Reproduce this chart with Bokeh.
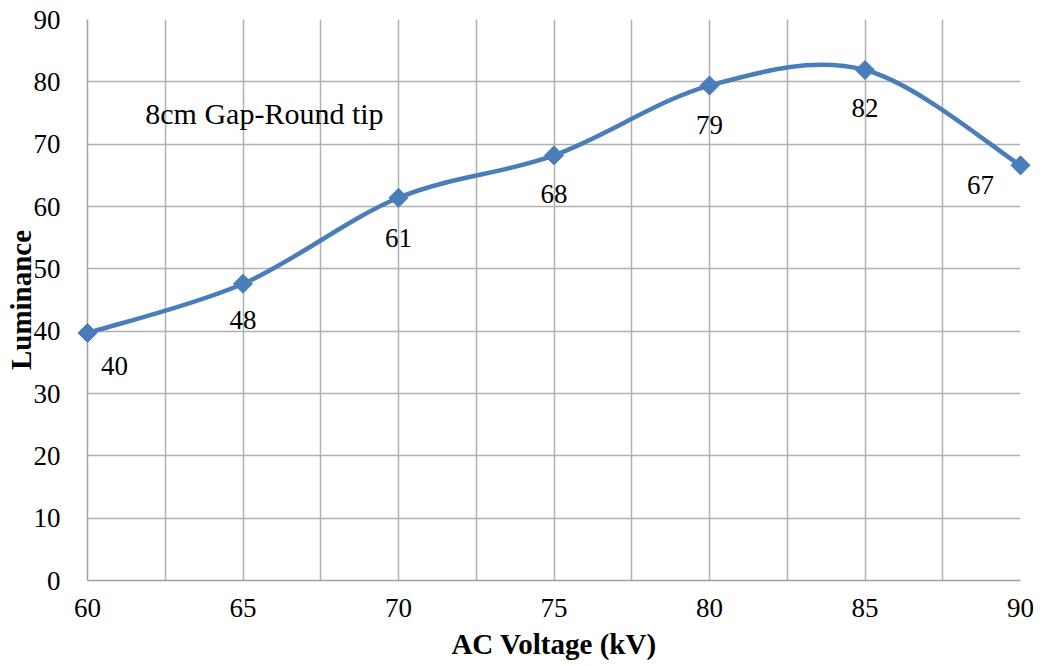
import numpy as np
from bokeh.plotting import figure
from bokeh.models import Range1d, FixedTicker, ColumnDataSource
from bokeh.core.properties import value
from bokeh.embed import file_html
from bokeh.resources import INLINE

# ---- data ----
voltage = [60, 65, 70, 75, 80, 85, 90]
luminance = [39.7, 47.6, 61.4, 68.2, 79.4, 81.9, 66.6]
point_labels = ["40", "48", "61", "68", "79", "82", "67"]
x_ticks = [60, 65, 70, 75, 80, 85, 90]
x_grid_ticks = [60, 62.5, 65, 67.5, 70, 72.5, 75, 77.5, 80, 82.5, 85, 87.5, 90]
y_ticks = [0, 10, 20, 30, 40, 50, 60, 70, 80, 90]
annotation = "8cm Gap-Round tip"

# label pixel offsets (style)
lab_dx = [27, 0, 0, 0, 0, 0, -40]
lab_dy = [33, 36, 40, 39, 39, 38, 20]

FONT = "Liberation Serif"
BLUE = "#4A7EBB"
GRID = "#B0B0B0"

p = figure(width=1043, height=666, output_backend="svg", toolbar_location=None,
           x_range=Range1d(60, 90), y_range=Range1d(0, 90),
           min_border_left=87, min_border_right=23, min_border_top=19, min_border_bottom=86)
p.outline_line_color = None
p.background_fill_color = "white"
p.border_fill_color = "white"

# axes
p.xaxis.ticker = FixedTicker(ticks=x_ticks)
p.yaxis.ticker = FixedTicker(ticks=y_ticks)
p.xgrid.ticker = FixedTicker(ticks=x_grid_ticks)
p.ygrid.ticker = FixedTicker(ticks=y_ticks)
for g in (p.xgrid, p.ygrid):
    g.grid_line_color = GRID
    g.grid_line_width = 1.5
for ax in (p.xaxis, p.yaxis):
    ax.major_tick_line_color = None
    ax.minor_tick_line_color = None
    ax.axis_line_color = "#A0A0A0"
    ax.axis_line_width = 1.5
    ax.major_label_text_font = FONT
    ax.major_label_text_font_size = "27px"
    ax.major_label_text_color = "black"
    ax.axis_label_text_font = FONT
    ax.axis_label_text_font_size = "29px"
    ax.axis_label_text_font_style = "bold"
    ax.axis_label_text_color = "black"
p.xaxis.axis_label = "AC Voltage (kV)"
p.yaxis.axis_label = "Luminance"
p.xaxis.major_label_standoff = 12
p.yaxis.major_label_standoff = 21
p.xaxis.axis_label_standoff = 8
p.yaxis.axis_label_standoff = -6

# smoothed curve (Excel-like Bezier smoothing computed from the data points)
xs = np.array(voltage, dtype=float)
ys = np.array(luminance, dtype=float)
n = len(xs)
x0, y0, x1, y1, cx0, cy0, cx1, cy1 = [], [], [], [], [], [], [], []
for i in range(n - 1):
    a = i - 1 if i > 0 else i
    d = i + 2 if i + 2 < n else i + 1
    x0.append(xs[i]); y0.append(ys[i])
    x1.append(xs[i + 1]); y1.append(ys[i + 1])
    cx0.append(xs[i] + (xs[i + 1] - xs[a]) / 6.0)
    cy0.append(ys[i] + (ys[i + 1] - ys[a]) / 6.0)
    cx1.append(xs[i + 1] - (xs[d] - xs[i]) / 6.0)
    cy1.append(ys[i + 1] - (ys[d] - ys[i]) / 6.0)
p.bezier(x0=x0, y0=y0, x1=x1, y1=y1, cx0=cx0, cy0=cy0, cx1=cx1, cy1=cy1,
         line_color=BLUE, line_width=4.5)

src = ColumnDataSource(dict(x=voltage, y=luminance, t=point_labels, dx=lab_dx, dy=lab_dy))
p.scatter("x", "y", source=src, marker="square", angle=np.pi / 4, size=13.5,
          fill_color=BLUE, line_color=BLUE, level="overlay")

p.text("x", "y", text="t", source=src, x_offset="dx", y_offset="dy",
       text_font=value(FONT), text_font_size="27px", text_color="black",
       text_align="center", text_baseline="middle")

p.text(x=[65.69], y=[74.9], text=[annotation], text_font=value(FONT),
       text_font_size="30px", text_color="black", text_align="center",
       text_baseline="middle")

open("out.html", "w").write(file_html(p, INLINE))
